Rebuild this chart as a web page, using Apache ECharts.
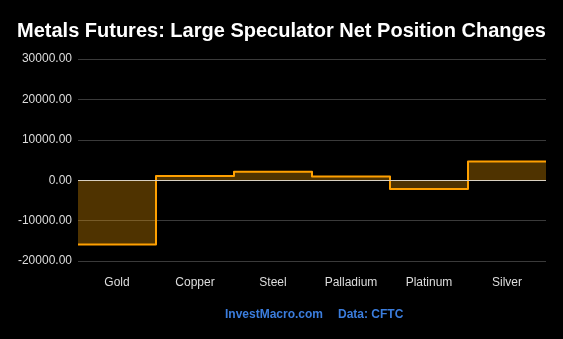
<!DOCTYPE html>
<html>
<head>
<meta charset="utf-8">
<script src="https://cdn.jsdelivr.net/npm/echarts@6/dist/echarts.min.js"></script>
<style>
  html, body { margin: 0; padding: 0; background: #000; }
  #chart { width: 563px; height: 339px; }
</style>
</head>
<body>
<div id="chart"></div>
<script>
// Weekly change in large speculator net positions by metal
const categories = ['Gold', 'Copper', 'Steel', 'Palladium', 'Platinum', 'Silver'];
const netChanges = [-15900, 1050, 2100, 900, -2200, 4600];
const yTicks = { min: -20000, max: 30000, interval: 10000 };

// Each metal holds its value across its whole category band: point i sits on the
// band's left edge, and a closing point carries the last value to the right edge.
const stepData = netChanges.map((v, i) => [i, v]);
stepData.push([categories.length, netChanges[netChanges.length - 1]]);

const chart = echarts.init(document.getElementById('chart'));
chart.setOption({
  backgroundColor: '#000000',
  animation: false,
  title: {
    text: 'Metals Futures: Large Speculator Net Position Changes',
    left: 'center',
    top: 16,
    textStyle: { color: '#ffffff', fontFamily: 'Liberation Sans, Arial', fontWeight: 'bold', fontSize: 20 }
  },
  graphic: [{
    type: 'text',
    left: 225,
    top: 309,
    style: { text: 'InvestMacro.com', fill: '#3b7ddd', font: 'bold 12px "Liberation Sans", Arial' }
  }, {
    type: 'text',
    left: 338,
    top: 309,
    style: { text: 'Data: CFTC', fill: '#3b7ddd', font: 'bold 12px "Liberation Sans", Arial' }
  }],
  grid: { left: 78, right: 17, top: 59, bottom: 78 },
  xAxis: [{
    type: 'category',
    data: categories,
    boundaryGap: true,
    axisLine: { show: false },
    axisTick: { show: false },
    axisLabel: { color: '#dddddd', fontSize: 12, fontFamily: 'Liberation Sans, Arial', margin: 16 },
    splitLine: { show: false }
  }, {
    type: 'value',
    min: 0,
    max: categories.length,
    show: false
  }],
  yAxis: {
    type: 'value',
    min: yTicks.min,
    max: yTicks.max,
    interval: yTicks.interval,
    axisLine: { show: false },
    axisTick: { show: false },
    axisLabel: {
      color: '#dddddd', fontSize: 12, fontFamily: 'Liberation Sans, Arial', margin: 6,
      formatter: v => v.toFixed(2)
    },
    splitLine: { lineStyle: { color: '#3a3a3a', width: 1 } }
  },
  series: [{
    type: 'line',
    xAxisIndex: 1,
    data: stepData,
    step: 'end',
    symbol: 'none',
    lineStyle: { color: '#ffa000', width: 2, join: 'round' },
    areaStyle: { color: '#ffa500', opacity: 0.31, origin: 0 },
    markLine: {
      silent: true,
      symbol: 'none',
      label: { show: false },
      lineStyle: { color: '#d8d0c0', width: 1, type: 'solid' },
      data: [{ yAxis: 0 }]
    },
    z: 3
  }]
});
</script>
</body>
</html>
